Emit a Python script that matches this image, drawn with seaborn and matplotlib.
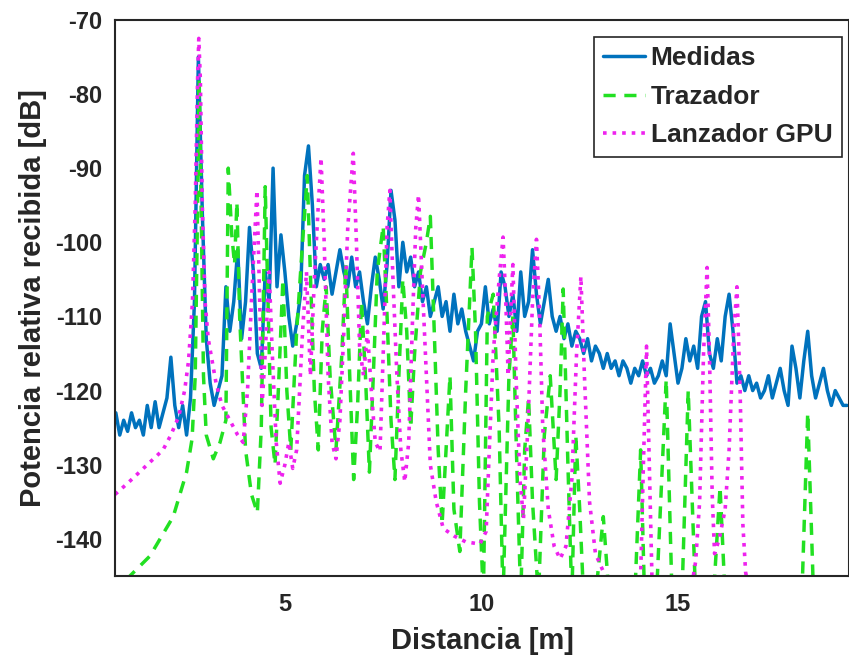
import numpy as np
import pandas as pd
import matplotlib
matplotlib.use("Agg")
import matplotlib.pyplot as plt
import seaborn as sns

# Medidas: muestreo cada 0.1 m desde 0.7 m
medidas_x0 = 0.7
medidas_paso = 0.1
medidas_y = [
    -123, -126, -124, -125.5, -123, -125, -124, -126, -122, -125,
    -121.5, -125, -123, -121, -115.5, -122, -125, -122, -126, -121,
    -108, -75, -96, -113, -119, -122, -120, -118, -106, -112,
    -108, -101, -113, -108, -98, -104, -115, -117, -104, -108,
    -90, -106, -99, -104, -110, -114, -111, -107, -91, -87,
    -95, -106, -103, -105, -103, -107, -104, -101, -104, -106,
    -102, -106, -104, -108, -111, -106, -102, -105, -109, -103,
    -93, -97, -106, -100, -104, -102, -106, -104, -108, -106,
    -110, -108, -106, -110, -108, -112, -107, -111, -109, -112,
    -114, -116, -112, -111, -106, -111, -109, -112, -104, -106,
    -110, -107, -112, -104, -110, -108, -101, -107, -111, -108,
    -105, -110, -112, -110, -113, -111, -114, -112, -113, -115,
    -113, -116, -114, -115, -117, -115, -117, -116, -118, -116,
    -117, -119, -117, -118, -116, -118, -117, -119, -118, -116,
    -118, -111, -115, -119, -117, -113, -116, -114, -117, -110,
    -108, -115, -117, -113, -116, -110, -107, -112, -119, -118,
    -120, -118, -120, -119, -121, -120, -118, -121, -119, -117,
    -120, -122, -114, -117, -121, -116, -112, -118, -121, -119,
    -117, -120, -122, -120, -121, -122, -122,
]

# Trazador (valores por debajo de -145 quedan fuera del eje)
trazador_x = [
    0.70, 1.06, 1.57, 2.16, 2.50, 2.64, 2.72, 2.78, 2.82, 2.87,
    2.93, 3.00, 3.18, 3.35, 3.50, 3.56, 3.65, 3.72, 3.78, 3.85,
    4.00, 4.15, 4.30, 4.40, 4.50, 4.58, 4.65, 4.75, 4.85, 4.95,
    5.05, 5.15, 5.30, 5.45, 5.57, 5.66, 5.75, 5.85, 5.95, 6.05,
    6.15, 6.30, 6.45, 6.55, 6.65, 6.75, 6.85, 6.95, 7.05, 7.15,
    7.25, 7.35, 7.50, 7.60, 7.70, 7.80, 7.90, 8.00, 8.10, 8.20,
    8.30, 8.45, 8.60, 8.70, 8.80, 8.90, 9.00, 9.10, 9.20, 9.30,
    9.45, 9.60, 9.76, 9.85, 9.95, 10.05, 10.15, 10.30, 10.45, 10.55,
    10.70, 10.80, 10.90, 11.00, 11.10, 11.20, 11.30, 11.45, 11.60, 11.75,
    11.90, 12.00, 12.08, 12.20, 12.30, 12.40, 12.50, 12.60, 12.90, 13.10,
    13.25, 13.90, 14.05, 14.15, 14.45, 14.70, 14.85, 15.10, 15.26, 15.45,
    15.90, 16.07, 16.20, 18.15, 18.30, 18.45, 19.35,
]
trazador_y = [
    -148, -145, -142.3, -137, -131, -126.5, -118, -95, -78, -95,
    -118, -126, -129.2, -127, -124, -90, -99, -103, -94.6, -110,
    -128, -134, -136.5, -125, -92.5, -110, -125, -130, -118, -105,
    -120, -128, -112, -100, -91, -106, -120, -128, -112, -106,
    -118, -128, -115, -103, -118, -132, -122, -108, -118, -131,
    -118, -104, -97.8, -110, -124, -132, -118, -105, -112, -125,
    -115, -104, -100, -96.5, -112, -128, -138, -128, -118, -136,
    -141.7, -120, -100.7, -112, -135, -148, -110, -107, -125, -148,
    -118, -110, -130, -148, -128, -121, -135, -148, -126, -118,
    -132, -120, -106.3, -130, -148, -126, -136, -148, -148, -137,
    -148, -148, -128, -148, -148, -118.5, -148, -148, -120, -148,
    -148, -133, -148, -148, -123, -148, -148,
]

# Lanzador GPU
lanzador_x = [
    0.68, 1.00, 1.30, 1.60, 1.90, 2.10, 2.30, 2.45, 2.55, 2.65,
    2.72, 2.78, 2.81, 2.85, 2.90, 2.97, 3.05, 3.15, 3.25, 3.40,
    3.60, 3.80, 3.94, 4.05, 4.15, 4.29, 4.36, 4.42, 4.50, 4.60,
    4.68, 4.78, 4.88, 5.00, 5.10, 5.20, 5.30, 5.45, 5.55, 5.65,
    5.75, 5.85, 5.92, 6.00, 6.10, 6.20, 6.30, 6.40, 6.50, 6.60,
    6.74, 6.82, 6.90, 7.00, 7.10, 7.20, 7.30, 7.42, 7.52, 7.60,
    7.67, 7.75, 7.85, 7.95, 8.05, 8.15, 8.25, 8.33, 8.40, 8.50,
    8.60, 8.70, 8.85, 9.03, 9.30, 9.60, 9.96, 10.12, 10.20, 10.30,
    10.45, 10.55, 10.62, 10.68, 10.74, 10.80, 10.88, 10.98, 11.07, 11.18,
    11.30, 11.40, 11.48, 11.56, 11.70, 11.85, 12.00, 12.15, 12.30, 12.42,
    12.53, 12.62, 12.75, 12.90, 13.10, 13.30, 13.90, 14.05, 14.12, 14.20,
    14.27, 14.35, 15.30, 15.45, 15.55, 15.65, 15.74, 15.80, 15.87, 15.93,
    16.05, 16.20, 16.30, 16.42, 16.50, 16.58, 16.65, 16.72, 16.85, 19.35,
]
lanzador_y = [
    -134, -132.5, -131, -129.5, -128, -126, -123.5, -120, -116, -108,
    -95, -78, -72.5, -78, -95, -108, -113, -116, -119, -122,
    -124, -126, -127, -120, -108, -93, -108, -122, -115, -104,
    -115, -127, -132.5, -130, -127, -130.5, -128, -112, -104, -118,
    -105, -95, -88.6, -100, -118, -127, -129.2, -124, -112, -98,
    -88, -100, -114, -118, -112, -120, -127, -128.2, -112, -98,
    -93, -105, -118, -128, -132.3, -127, -110, -98, -93.6, -106,
    -118, -130, -135, -138.6, -139.6, -140.4, -140.7, -139, -128, -115,
    -105, -99.3, -108, -118, -110, -103, -118, -132, -137.3, -125,
    -108, -99.6, -110, -125, -136, -141, -142.7, -141, -132, -115,
    -104.6, -118, -135, -142, -144.4, -148, -148, -145, -130, -114,
    -130, -148, -148, -143, -135, -115, -103.4, -115, -134, -142,
    -140, -136, -128, -112, -106, -120, -138, -144.5, -148, -150,
]

medidas_x = np.round(medidas_x0 + medidas_paso * np.arange(len(medidas_y)), 2)

df_med = pd.DataFrame({"x": medidas_x, "y": medidas_y})
df_tra = pd.DataFrame({"x": trazador_x, "y": trazador_y})
df_lan = pd.DataFrame({"x": lanzador_x, "y": lanzador_y})

sns.set_style("white")
plt.rcParams["font.family"] = ["Liberation Sans", "DejaVu Sans"]
plt.rcParams["font.weight"] = "bold"
plt.rcParams["axes.unicode_minus"] = False

fig = plt.figure(figsize=(8.49, 6.62), dpi=100)
ax = fig.add_axes([0.1355, 0.13, 0.8645, 0.84])

sns.lineplot(data=df_med, x="x", y="y", ax=ax, color="#0072BD", lw=2.5,
             label="Medidas", estimator=None, sort=False)
sns.lineplot(data=df_tra, x="x", y="y", ax=ax, color="#22e022", lw=2.5,
             label="Trazador", estimator=None, sort=False)
sns.lineplot(data=df_lan, x="x", y="y", ax=ax, color="#ee22ee", lw=2.6,
             label="Lanzador GPU", estimator=None, sort=False)
ax.lines[1].set_dashes([3.5, 2.5])
ax.lines[2].set_linestyle(":")

ax.set_xlim(0.68, 19.35)
ax.set_ylim(-145, -70)
ax.set_xticks([5, 10, 15])
ax.set_yticks(np.arange(-140, -69, 10))
ax.tick_params(direction="in", length=7, width=1.5, labelsize=17, pad=9,
               colors="#262626")
ax.tick_params(axis="x", pad=12)
for lab in ax.get_xticklabels() + ax.get_yticklabels():
    lab.set_fontweight("bold")
for sp in ax.spines.values():
    sp.set_color("#262626")
    sp.set_linewidth(1.5)

ax.set_xlabel("Distancia [m]", fontsize=21, fontweight="bold", labelpad=8)
ax.set_ylabel("Potencia relativa recibida [dB]", fontsize=21, fontweight="bold",
              labelpad=6)

leg = ax.legend(loc="upper right", bbox_to_anchor=(0.99, 0.969), fontsize=19,
                handlelength=1.6, handletextpad=0.2, labelspacing=0.55,
                borderpad=0.35, borderaxespad=0, fancybox=False, framealpha=1)
leg.get_frame().set_edgecolor("#262626")
leg.get_frame().set_linewidth(1.2)
for t in leg.get_texts():
    t.set_fontweight("bold")

fig.savefig("out.png", dpi=100)
